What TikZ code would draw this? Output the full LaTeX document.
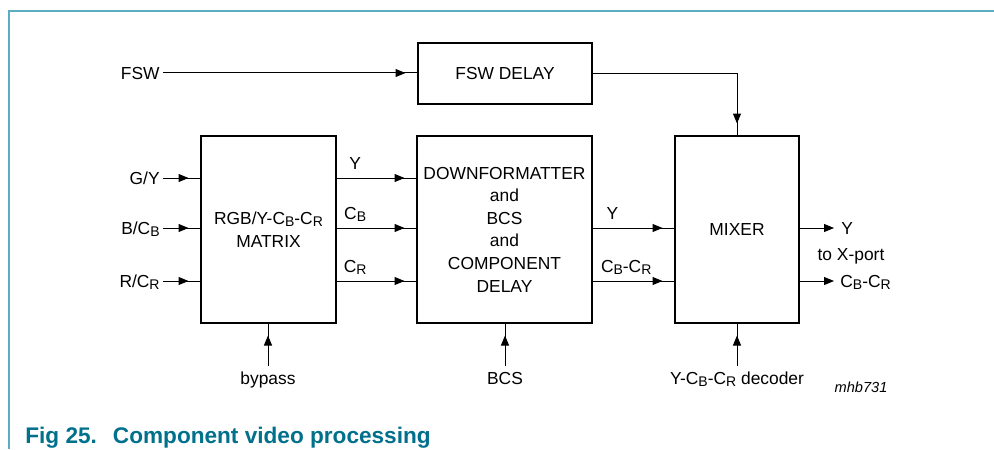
\documentclass[tikz,border=0pt]{standalone}
\usepackage{fontspec}
\setmainfont{Liberation Sans}
\usepackage{tikz}
\usetikzlibrary{arrows.meta,decorations.markings,positioning}
\definecolor{rulecol}{HTML}{5AADC2}
\definecolor{captcol}{HTML}{00708C}
\newcommand{\lo}[1]{\raisebox{-1.2pt}{\fontsize{7}{8}\selectfont #1}}

\begin{document}
\begin{tikzpicture}[x=0.5pt,y=-0.5pt,
  font=\fontsize{8.7}{11.3}\selectfont,
  block/.style={draw,line width=1pt,inner sep=0pt,align=center},
  lbl/.style={inner sep=1.5pt,text height=6.3pt,text depth=0pt},
  downlbl/.style={lbl,inner ysep=2.5pt,anchor=north},
  sig/.style={line width=0.5pt,postaction={decorate},
    decoration={markings,mark=at position -5.75pt with {\arrow{Triangle[length=5pt,width=4pt]}}}},
  sigend/.style={line width=0.5pt,-{Triangle[length=5pt,width=4pt]}}]
  \useasboundingbox (0,0) rectangle (994,449);
  \draw[rulecol,line width=0.9pt] (9,449) -- (9,11) -- (994,11);

  % blocks
  \node[block,minimum width=87pt,minimum height=30.5pt] (fswdel) at (505,73.5) {FSW DELAY};
  \node[block,minimum width=67.5pt,minimum height=93.5pt] (rgbmat) at (268.5,229.5) {RGB/Y-C\lo{B}-C\lo{R}\\MATRIX};
  \node[block,minimum width=87.5pt,minimum height=93.5pt] (dfmt) at (504.5,229.5) {DOWNFORMATTER\\and\\BCS\\and\\COMPONENT\\DELAY};
  \node[block,minimum width=62pt,minimum height=93.5pt] (mixer) at (737,229.5) {MIXER};

  % inputs
  \node[lbl,anchor=east] (fsw) at (163,73) {FSW};
  \node[lbl,anchor=east] (gy) at (163,178) {G/Y};
  \node[lbl,anchor=east] (bcb) at (163,228) {B/C\lo{B}};
  \node[lbl,anchor=east] (rcr) at (163,281) {R/C\lo{R}};
  \draw[sig] (fsw.east) -- (fsw.east -| fswdel.west);
  \draw[sig] (fswdel.east) -| (mixer.north);
  \foreach \n in {gy,bcb,rcr}
    \draw[sig] (\n.east) -- (\n.east -| rgbmat.west);

  % matrix to downformatter
  \draw[sig] (gy.east -| rgbmat.east) -- (gy.east -| dfmt.west) node[lbl,pos=0.23,above=2.5pt] {Y};
  \draw[sig] (bcb.east -| rgbmat.east) -- (bcb.east -| dfmt.west) node[lbl,pos=0.23,above=2.5pt] {C\lo{B}};
  \draw[sig] (rcr.east -| rgbmat.east) -- (rcr.east -| dfmt.west) node[lbl,pos=0.23,above=2.5pt] {C\lo{R}};

  % downformatter to mixer
  \draw[sig] (bcb.east -| dfmt.east) -- (bcb.east -| mixer.west) node[lbl,pos=0.24,above=2.5pt] {Y};
  \draw[sig] (rcr.east -| dfmt.east) -- (rcr.east -| mixer.west) node[lbl,pos=0.41,above=2.5pt] {C\lo{B}-C\lo{R}};

  % outputs
  \node[lbl,inner xsep=3.5pt,anchor=west] (yout) at (834,228) {Y};
  \node[lbl,inner xsep=3pt,anchor=west] (cout) at (834,281) {C\lo{B}-C\lo{R}};
  \node[lbl] (xport) at (851,254) {to X-port};
  \draw[sigend] (yout.west -| mixer.east) -- (yout.west);
  \draw[sigend] (cout.west -| mixer.east) -- (cout.west);

  % controls
  \node[downlbl] (bypass) at (268,366) {bypass};
  \node[downlbl] (bcs) at (505,366) {BCS};
  \node[downlbl] (decoder) at (737,366) {Y-C\lo{B}-C\lo{R} decoder};
  \draw[sig] (bypass.north) -- (bypass.north |- rgbmat.south);
  \draw[sig] (bcs.north) -- (bcs.north |- dfmt.south);
  \draw[sig] (decoder.north) -- (decoder.north |- mixer.south);

  \node[anchor=base,inner sep=0pt,font=\fontsize{7.3}{9}\selectfont\itshape] (code) at (861,392) {mhb731};
  \node[anchor=base west,inner sep=0pt,text=captcol,font=\fontsize{11.3}{13}\selectfont\bfseries] (caption) at (25,443) {Fig 25.\hskip 8pt Component video processing};
\end{tikzpicture}
\end{document}
